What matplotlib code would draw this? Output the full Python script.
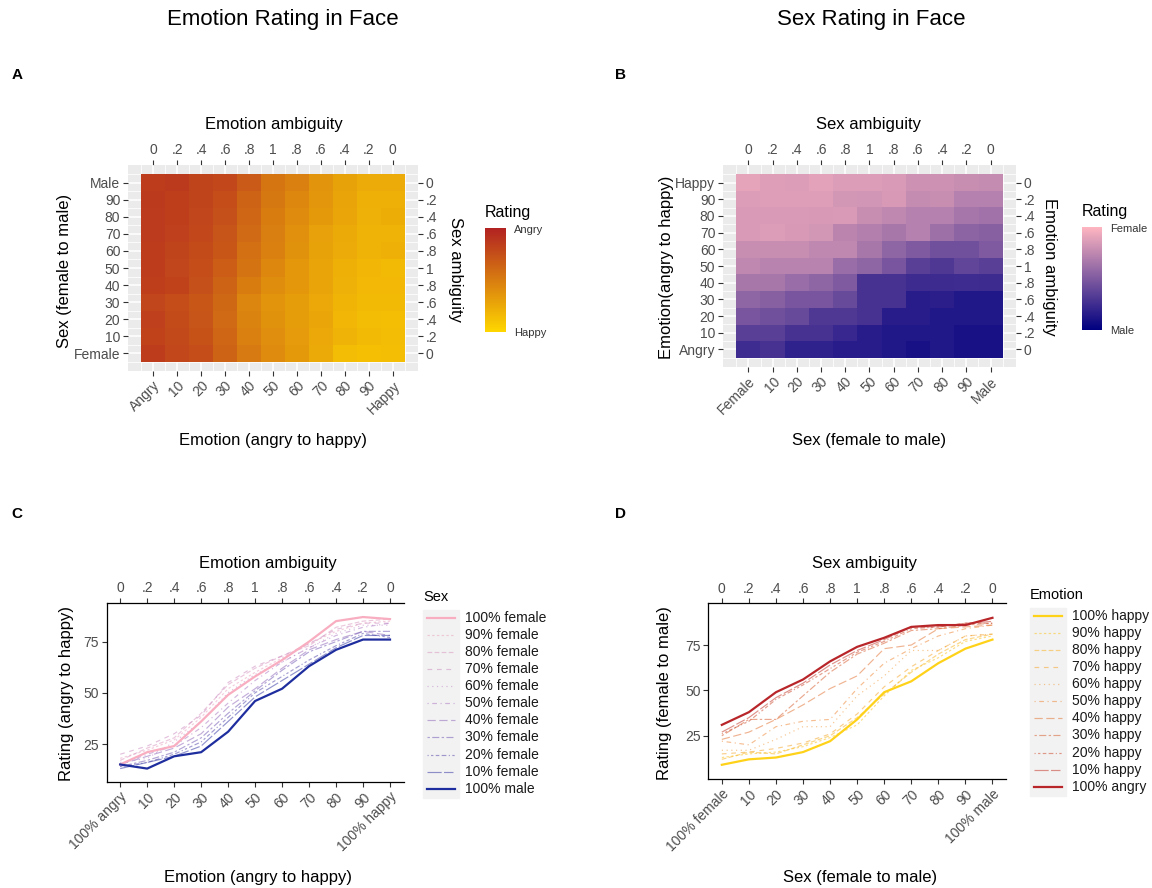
import numpy as np
import matplotlib
matplotlib.use("Agg")
import matplotlib.pyplot as plt
from matplotlib.colors import LinearSegmentedColormap, to_rgb
from matplotlib.patches import Rectangle

plt.rcParams['font.family'] = ['Liberation Sans', 'DejaVu Sans']

# ---------------- data ----------------
levels = list(range(11))
ambiguity = ['0', '.2', '.4', '.6', '.8', '1', '.8', '.6', '.4', '.2', '0']
emotion_heat_ticks = ['Angry', '10', '20', '30', '40', '50', '60', '70', '80', '90', 'Happy']
sex_heat_ticks = ['Female', '10', '20', '30', '40', '50', '60', '70', '80', '90', 'Male']
emotion_line_ticks = ['100% angry', '10', '20', '30', '40', '50', '60', '70', '80', '90', '100% happy']
sex_line_ticks = ['100% female', '10', '20', '30', '40', '50', '60', '70', '80', '90', '100% male']

sex_series = ['100% female', '90% female', '80% female', '70% female', '60% female', '50% female',
              '40% female', '30% female', '20% female', '10% female', '100% male']
emotion_series = ['100% happy', '90% happy', '80% happy', '70% happy', '60% happy', '50% happy',
                  '40% happy', '30% happy', '20% happy', '10% happy', '100% angry']

# Emotion rating (angry to happy); rows = sex level (female -> male), cols = emotion level (angry -> happy)
emotion_rating = [
    [15, 21, 24, 36, 49, 58, 66, 75, 85, 87, 86],
    [18, 22, 27, 38, 52, 60, 67, 74, 80, 84, 85],
    [17, 23, 28, 40, 54, 62, 68, 73, 82, 85, 86],
    [20, 24, 30, 39, 55, 63, 68, 74, 81, 84, 84],
    [16, 18, 26, 36, 50, 59, 65, 72, 79, 83, 83],
    [15, 20, 24, 33, 45, 56, 65, 72, 78, 82, 84],
    [15, 19, 23, 30, 43, 52, 62, 71, 76, 80, 78],
    [14, 17, 21, 28, 40, 51, 61, 70, 75, 80, 80],
    [14, 16, 20, 26, 38, 50, 58, 66, 73, 79, 77],
    [13, 16, 19, 24, 36, 48, 56, 64, 72, 78, 78],
    [15, 13, 19, 21, 31, 46, 52, 63, 71, 76, 76],
]

# Sex rating heatmap as displayed; rows = Angry (bottom) -> Happy (top), cols = Female -> Male
sex_rating_heat = [
    [75, 72, 81, 81, 84, 84, 87, 90, 87, 90, 90],
    [65, 65, 72, 72, 78, 84, 87, 87, 87, 90, 90],
    [53, 56, 59, 69, 69, 72, 84, 84, 87, 87, 87],
    [44, 47, 53, 53, 59, 72, 72, 84, 83, 87, 87],
    [34, 34, 40, 44, 50, 72, 72, 76, 76, 75, 76],
    [25, 28, 28, 28, 40, 44, 53, 65, 69, 62, 65],
    [22, 22, 22, 25, 25, 34, 44, 50, 56, 56, 50],
    [15, 14, 16, 17, 27, 30, 34, 29, 38, 45, 47],
    [15, 15, 15, 16, 15, 22, 25, 29, 29, 35, 37],
    [14, 13, 13, 13, 17, 18, 16, 23, 22, 29, 29],
    [10, 13, 14, 11, 14, 14, 15, 20, 20, 22, 23],
]

# Sex rating (female to male) lines; one per emotion series (100% happy -> 100% angry), x = sex level
sex_rating = [
    [9, 12, 13, 16, 22, 34, 49, 55, 65, 73, 78],
    [13, 15, 16, 19, 24, 31, 47, 61, 68, 77, 80],
    [12, 16, 15, 20, 25, 35, 48, 60, 70, 78, 81],
    [15, 16, 18, 21, 26, 37, 52, 63, 72, 80, 81],
    [17, 17, 23, 30, 30, 47, 58, 72, 72, 80, 81],
    [22, 20, 30, 33, 34, 51, 65, 73, 80, 84, 86],
    [23, 27, 34, 42, 51, 58, 73, 75, 84, 85, 86],
    [25, 34, 34, 47, 60, 70, 76, 83, 84, 86, 87],
    [26, 33, 45, 53, 62, 71, 77, 84, 85, 87, 87],
    [27, 35, 46, 54, 64, 72, 78, 85, 85, 87, 88],
    [31, 38, 49, 56, 66, 74, 79, 85, 86, 86, 90],
]

# ---------------- styles ----------------
W, H = 1152, 888
fig = plt.figure(figsize=(W / 100, H / 100), dpi=100)

def ax_px(l, t, r, b, **kw):
    return fig.add_axes([l / W, 1 - b / H, (r - l) / W, (b - t) / H], **kw)

TICK_C = '#4D4D4D'
TICK_FS = 10
LAB_FS = 12

linestyles = ['-', (0, (2, 2)), (0, (4, 2)), (0, (4, 4)), (0, (1, 3)), (0, (1, 3, 4, 3)),
              (0, (7, 3)), (0, (2, 2, 6, 2)), (0, (1, 2, 2, 2, 3, 2, 4, 2)), (0, (12, 2, 8, 2)), '-']

def gradient_colors(stops, n):
    cm = LinearSegmentedColormap.from_list('tmp', stops)
    return [cm(i / (n - 1)) for i in range(n)]

sex_cols = gradient_colors(['#F8AEC0', '#B07CC4', '#1F2E9E'], 11)
emo_cols = gradient_colors(['#FFD21A', '#EE8A3A', '#B8262A'], 11)

cmap_emotion = LinearSegmentedColormap.from_list('emo', ['#B22222', '#FFD700'])
cmap_sex = LinearSegmentedColormap.from_list('sex', ['#FFB6C1', '#000080'])

# overlay for free text
ov = fig.add_axes([0, 0, 1, 1], zorder=-1)
ov.set_xlim(0, W); ov.set_ylim(H, 0); ov.axis('off')

def txt(x, y, s, **kw):
    ov.text(x, y, s, ha=kw.pop('ha', 'center'), va=kw.pop('va', 'center'), **kw)

def style_ticks(ax):
    ax.tick_params(axis='both', which='both', colors='#333333', labelcolor=TICK_C,
                   labelsize=TICK_FS, length=3.5, width=0.8, pad=2)

def heatmap(ax, data, cmap, xt, yt):
    ax.set_facecolor('#EBEBEB')
    for v in range(11):
        ax.axvline(v, color='white', lw=1.1, zorder=1)
        ax.axhline(v, color='white', lw=1.1, zorder=1)
    for v in np.arange(-0.5, 11, 1):
        ax.axvline(v, color='white', lw=0.55, zorder=1)
        ax.axhline(v, color='white', lw=0.55, zorder=1)
    im = ax.imshow(np.array(data, dtype=float), origin='lower', cmap=cmap, vmin=0, vmax=100,
                   aspect='auto', extent=(-0.5, 10.5, -0.5, 10.5), interpolation='nearest', zorder=2)
    ax.set_xlim(-1.05, 11.05); ax.set_ylim(-1.05, 11.05)
    for s in ax.spines.values():
        s.set_visible(False)
    ax.set_xticks(levels)
    ax.set_xticklabels(xt, rotation=45, ha='right', va='top', rotation_mode='anchor')
    ax.set_yticks(levels)
    ax.set_yticklabels(yt)
    style_ticks(ax)
    sx = ax.secondary_xaxis('top')
    sx.set_xticks(levels)
    sx.set_xticklabels(ambiguity)
    sy = ax.secondary_yaxis('right')
    sy.set_yticks(levels)
    sy.set_yticklabels(ambiguity)
    for a in (sx, sy):
        for s in a.spines.values():
            s.set_visible(False)
        style_ticks(a)
    return im

def colorbar(im, l, t, r, b, top_lab, bot_lab):
    cax = ax_px(l, t, r, b)
    grad = np.linspace(0, 100, 256)[:, None]
    cax.imshow(grad, cmap=im.get_cmap(), vmin=0, vmax=100, aspect='auto', origin='upper',
               extent=(0, 1, 100, 0))
    cax.set_xlim(0, 1); cax.set_ylim(100, 0)
    cax.set_xticks([]); cax.set_yticks([])
    for s in cax.spines.values():
        s.set_visible(False)
    txt(r + 8, t + 2, top_lab, ha='left', fontsize=8, color='#333333')
    txt(r + 8, b + 1, bot_lab, ha='left', fontsize=8, color='#333333')
    txt(l, t - 16, 'Rating', ha='left', fontsize=11.5)

def lineplot(ax, series, cols, labels, xt, ylim):
    for i, (vals, c, lab) in enumerate(zip(series, cols, labels)):
        end = i in (0, 10)
        ax.plot(levels, vals, color=c, ls=linestyles[i], lw=1.6 if end else 0.85,
                alpha=1.0 if end else 0.55, zorder=3 if end else 2, label=lab)
    ax.set_xlim(-0.5, 10.5); ax.set_ylim(*ylim)
    ax.spines['right'].set_visible(False)
    for s in ('left', 'bottom', 'top'):
        ax.spines[s].set_linewidth(0.9); ax.spines[s].set_color('black')
    ax.set_xticks(levels)
    ax.set_xticklabels(xt, rotation=45, ha='right', va='top', rotation_mode='anchor')
    ax.set_yticks([25, 50, 75])
    style_ticks(ax)
    ax.tick_params(top=False)
    sx = ax.secondary_xaxis('top')
    sx.set_xticks(levels)
    sx.set_xticklabels(ambiguity)
    sx.spines['top'].set_visible(False)
    style_ticks(sx)

def legend(x, y0, title, labels, cols):
    txt(x, y0 - 21, title, ha='left', fontsize=10.5)
    ov.add_patch(Rectangle((x, y0 - 8), 36, 17.1 * 11, color='#F2F2F2', zorder=1))
    for i, (lab, c) in enumerate(zip(labels, cols)):
        yy = y0 + 17.1 * i
        end = i in (0, 10)
        ov.plot([x + 4, x + 32], [yy, yy], color=c, ls=linestyles[i], lw=1.6 if end else 0.85,
                alpha=1.0 if end else 0.55, zorder=2)
        txt(x + 42, yy, lab, ha='left', fontsize=10, color='#1A1A1A')

# ---------------- panels ----------------
txt(283, 20, 'Emotion Rating in Face', fontsize=16)
txt(871, 20, 'Sex Rating in Face', fontsize=16)
for lab, x, y in (('A', 17, 75), ('B', 620, 75), ('C', 17, 514), ('D', 620, 514)):
    txt(x, y, lab, fontsize=11, fontweight='bold')

axA = ax_px(128, 165, 418, 371)
imA = heatmap(axA, emotion_rating, cmap_emotion, emotion_heat_ticks, sex_heat_ticks)
colorbar(imA, 485, 228, 506, 332, 'Angry', 'Happy')
txt(274, 125, 'Emotion ambiguity', fontsize=LAB_FS)
txt(273, 440, 'Emotion (angry to happy)', fontsize=LAB_FS)
txt(65, 271, 'Sex (female to male)', fontsize=LAB_FS, rotation=90)
txt(455, 269, 'Sex ambiguity', fontsize=LAB_FS, rotation=-90)

axB = ax_px(723, 165, 1016, 367)
imB = heatmap(axB, sex_rating_heat, cmap_sex, sex_heat_ticks, emotion_heat_ticks)
colorbar(imB, 1082, 227, 1102, 330, 'Female', 'Male')
txt(869, 125, 'Sex ambiguity', fontsize=LAB_FS)
txt(869, 440, 'Sex (female to male)', fontsize=LAB_FS)
txt(666, 267, 'Emotion(angry to happy)', fontsize=LAB_FS, rotation=90)
txt(1050, 267, 'Emotion ambiguity', fontsize=LAB_FS, rotation=-90)

axC = ax_px(106.7, 602.7, 403.5, 782.3)
lineplot(axC, emotion_rating, sex_cols, sex_series, emotion_line_ticks, (6.3, 94))
txt(268, 563, 'Emotion ambiguity', fontsize=LAB_FS)
txt(258, 877, 'Emotion (angry to happy)', fontsize=LAB_FS)
txt(66, 693, 'Rating (angry to happy)', fontsize=LAB_FS, rotation=90)
legend(423, 617.7, 'Sex', sex_series, sex_cols)

axD = ax_px(708.3, 603.3, 1006, 779.3)
lineplot(axD, sex_rating, emo_cols, emotion_series, sex_line_ticks, (1, 98))
txt(864, 563, 'Sex ambiguity', fontsize=LAB_FS)
txt(860, 877, 'Sex (female to male)', fontsize=LAB_FS)
txt(664, 693, 'Rating (female to male)', fontsize=LAB_FS, rotation=90)
legend(1030, 615.7, 'Emotion', emotion_series, emo_cols)

fig.savefig('out.png', dpi=100, facecolor='white')
